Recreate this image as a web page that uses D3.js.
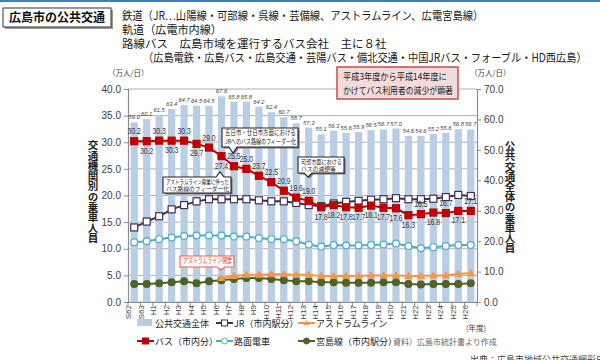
<!DOCTYPE html>
<html><head><meta charset="utf-8">
<script src="https://cdn.jsdelivr.net/npm/d3@7"></script>
<style>
body{margin:0;background:#fff;}
svg{display:block;font-family:"Noto Sans CJK JP","Noto Sans",sans-serif;}
</style></head><body>
<svg id="c" width="600" height="360"></svg>
<script>
// ---------- data ----------
const years = ["S62","S63","H1","H2","H3","H4","H5","H6","H7","H8","H9","H10","H11","H12","H13","H14","H15","H16","H17","H18","H19","H20","H21","H22","H23","H24","H25","H26"];
const total = [59.0,60.1,61.5,63.4,64.7,64.5,64.5,67.6,65.8,65.8,64.2,62.4,60.7,58.7,57.3,55.1,56.3,55.6,55.9,56.5,56.7,57.0,54.6,54.6,55.2,55.6,56.8,56.7];
const bus = [30.2,30.2,30.3,30.3,30.3,29.7,29.0,27.4,25.5,25.0,23.7,22.5,20.9,19.6,19.0,17.8,18.2,17.8,17.7,18.1,17.7,17.6,16.3,16.5,16.8,16.7,17.1,17.1];
const jr = [14.0,15.1,16.1,17.4,18.2,18.9,19.3,19.3,19.3,19.3,19.1,18.9,18.9,18.6,18.2,18.0,18.5,18.8,19.0,19.2,19.3,19.5,19.3,19.3,19.4,19.7,20.1,19.9];
const tram = [11.2,11.4,11.8,12.1,12.4,12.5,12.5,12.5,12.3,12.3,12.0,11.8,11.8,11.4,10.8,10.4,10.7,10.6,10.6,10.7,10.8,11.0,10.5,10.1,10.3,10.5,10.7,10.7];
const astram = [null,null,null,null,null,null,null,4.5,4.9,5.1,5.1,5.2,5.2,5.1,5.1,4.9,4.9,4.9,4.9,5.0,5.0,5.0,4.9,4.9,5.0,5.0,5.3,5.4];
const miyajima = [3.4,3.4,3.5,3.7,3.9,3.5,3.9,4.1,4.3,4.5,4.5,4.3,4.1,3.9,3.9,3.7,3.7,3.6,3.6,3.6,3.7,3.7,3.4,3.3,3.4,3.4,3.4,3.5];
const leftTicks = [0,5,10,15,20,25,30,35,40];
const rightTicks = [0,10,20,30,40,50,60,70];
// label placement for bus values (a = above, b = below)
const busLabelSide = ["a","b","a","b","a","b","a","b","a","a","a","a","a","a","a","b","b","b","b","b","b","b","b","a","b","a","b","a"];

// ---------- layout ----------
const L = 128, R = 477, T = 89, B = 302;
const svg = d3.select("#c");
const x = d3.scaleBand().domain(years).range([L, R]).paddingInner(0.42).paddingOuter(0.21);
const cx = i => x(years[i]) + x.bandwidth() / 2;
const yL = d3.scaleLinear().domain([0, 40]).range([B, T]);
const yR = d3.scaleLinear().domain([0, 70]).range([B, T]);

// text squeezed horizontally to a given width (keeps real bbox correct)
function fitText(parent, str, tx, ty, width, fs, attrs) {
  const t = parent.append("text").attr("font-size", fs).text(str);
  Object.entries(attrs || {}).forEach(([k, v]) => t.attr(k, v));
  const natural = t.node().getComputedTextLength();
  const sx = Math.min(1, width / natural);
  t.attr("transform", `translate(${tx},${ty}) scale(${sx},1)`);
  return t;
}

// top blue rule
svg.append("rect").attr("x", 0).attr("y", 0).attr("width", 600).attr("height", 2).attr("fill", "#3c7dc5");

// header box
svg.append("rect").attr("x", 5).attr("y", 10).attr("width", 108).attr("height", 19).attr("fill", "#9a9a9a");
svg.append("rect").attr("x", 3).attr("y", 8).attr("width", 108).attr("height", 19).attr("fill", "#fff").attr("stroke", "#333").attr("stroke-width", 1);
svg.append("text").attr("x", 57).attr("y", 22).attr("text-anchor", "middle").attr("font-weight", "bold")
  .attr("font-size", 12).attr("fill", "#111").text("広島市の公共交通");

const header = [
  {t: "鉄道（JR…山陽線・可部線・呉線・芸備線、アストラムライン、広電宮島線）", x: 122, y: 20, w: 362},
  {t: "軌道（広電市内線）", x: 122, y: 34, w: 100},
  {t: "路線バス　広島市域を運行するバス会社　主に８社", x: 122, y: 48, w: 268},
  {t: "（広島電鉄・広島バス・広島交通・芸陽バス・備北交通・中国JRバス・フォーブル・HD西広島）", x: 143, y: 62, w: 444}
];
header.forEach(h => fitText(svg, h.t, h.x, h.y, h.w, 11.5, {fill: "#1a1a1a"}));

// gridlines
svg.append("g").selectAll("line").data(leftTicks).join("line")
  .attr("x1", L).attr("x2", R).attr("y1", d => yL(d)).attr("y2", d => yL(d))
  .attr("stroke", "#a6a6a6").attr("stroke-width", 0.9);

// bars
svg.append("g").selectAll("rect").data(total).join("rect")
  .attr("x", (d, i) => x(years[i])).attr("width", x.bandwidth())
  .attr("y", d => yR(d)).attr("height", d => B - yR(d)).attr("fill", "#b9cde5");
svg.append("g").selectAll("text").data(total).join("text")
  .attr("x", (d, i) => cx(i)).attr("y", d => yR(d) - 3).attr("text-anchor", "middle")
  .attr("font-size", 5.8).attr("font-style", "italic").attr("fill", "#444")
  .attr("font-family", "Liberation Sans, sans-serif").text(d => d.toFixed(1));

// axes
const axL = svg.append("g").attr("transform", `translate(${L},0)`)
  .call(d3.axisLeft(yL).tickValues(leftTicks).tickFormat(d3.format(".1f")).tickSize(4).tickPadding(3));
const axR = svg.append("g").attr("transform", `translate(${R},0)`)
  .call(d3.axisRight(yR).tickValues(rightTicks).tickFormat(d3.format(".1f")).tickSize(4).tickPadding(3));
[axL, axR].forEach(a => {
  a.select(".domain").attr("stroke", "#8c8c8c").attr("stroke-width", 1.2);
  a.selectAll(".tick line").attr("stroke", "#8c8c8c");
  a.selectAll(".tick text").attr("font-size", 10).attr("fill", "#404040").attr("font-family", "Liberation Sans, sans-serif");
});

const axB = svg.append("g").attr("transform", `translate(0,${B})`)
  .call(d3.axisBottom(x).tickSize(0).tickPadding(3));
axB.select(".domain").attr("stroke", "#8c8c8c").attr("stroke-width", 1.2);
axB.selectAll(".tick text").attr("font-size", 8).attr("fill", "#404040")
  .attr("font-family", "Liberation Sans, sans-serif")
  .attr("transform", "rotate(-90)").attr("text-anchor", "end").attr("dx", "-3").attr("dy", "-0.35em").attr("x", 0).attr("y", 0);
// ticks between categories
svg.append("g").selectAll("line").data(d3.range(years.length + 1)).join("line")
  .attr("x1", i => L + i * x.step()).attr("x2", i => L + i * x.step())
  .attr("y1", B).attr("y2", B + 4).attr("stroke", "#8c8c8c");

// units & axis titles
svg.append("text").attr("x", 108).attr("y", 76).attr("font-size", 7.5).attr("fill", "#404040").text("（万人/日）");
svg.append("text").attr("x", 470).attr("y", 76).attr("font-size", 7.5).attr("fill", "#404040").text("（万人/日）");
svg.append("text").attr("x", 466).attr("y", 331).attr("font-size", 7.5).attr("fill", "#404040").text("(年度)");

function vtext(str, xx, y0, fs, ls) {
  svg.append("text").attr("x", xx).attr("y", y0)
    .style("writing-mode", "vertical-rl").style("text-orientation", "upright")
    .attr("font-size", fs).attr("font-weight", "bold").attr("fill", "#222")
    .style("letter-spacing", ls + "px").text(str);
}
vtext("交通機関別の乗車人員", 93, 140, 10.5, -0.2);
vtext("公共交通全体の乗車人員", 510, 141, 10.5, -0.3);

// lines
const line = d3.line().defined(d => d != null).x((d, i) => cx(i)).y(d => yL(d));
function series(data, color, marker, fill, sw) {
  const g = svg.append("g");
  g.append("path").datum(data).attr("d", line).attr("fill", "none").attr("stroke", color).attr("stroke-width", sw || 2);
  const pts = data.map((v, i) => ({v, i})).filter(p => p.v != null);
  if (marker === "square") {
    g.selectAll("rect").data(pts).join("rect").attr("x", p => cx(p.i) - 3.5).attr("y", p => yL(p.v) - 3.5)
      .attr("width", 7).attr("height", 7).attr("fill", fill).attr("stroke", color).attr("stroke-width", 1.2);
  } else if (marker === "circle") {
    g.selectAll("circle").data(pts).join("circle").attr("cx", p => cx(p.i)).attr("cy", p => yL(p.v))
      .attr("r", 3.4).attr("fill", fill).attr("stroke", color).attr("stroke-width", 1.2);
  } else if (marker === "triangle") {
    g.selectAll("path.m").data(pts).join("path").attr("class", "m")
      .attr("d", p => `M${cx(p.i)},${yL(p.v) - 3.5}L${cx(p.i) + 3.5},${yL(p.v) + 2.5}L${cx(p.i) - 3.5},${yL(p.v) + 2.5}Z`)
      .attr("fill", fill).attr("stroke", color);
  }
}
series(miyajima, "#4f6228", "circle", "#4f6228");
series(astram, "#f79646", "triangle", "#f79646");
series(tram, "#4bacc6", "circle", "#fff");
series(jr, "#403151", "square", "#fff");
series(bus, "#c00000", "square", "#c00000");

// bus value labels (narrow digits, like the original)
const busLab = svg.append("g");
bus.forEach((d, i) => {
  const t = busLab.append("text").attr("text-anchor", "middle").attr("font-size", 9.5).attr("fill", "#333")
    .attr("font-family", "Liberation Sans, sans-serif").text(d.toFixed(1));
  const ty = yL(d) + (busLabelSide[i] === "a" ? -7 : 12.5);
  t.attr("transform", `translate(${cx(i)},${ty}) scale(0.72,1)`);
});

// callouts
function callout(bx, by, w, h, lines, tipX, tipY, stroke, tcolor, fs, shadow) {
  let d;
  if (tipY > by + h) d = `M${bx},${by}H${bx + w}V${by + h}H${tipX + 4}L${tipX},${tipY}L${tipX - 4},${by + h}H${bx}Z`;
  else d = `M${bx},${by}H${tipX - 4}L${tipX},${tipY}L${tipX + 4},${by}H${bx + w}V${by + h}H${bx}Z`;
  if (shadow) svg.append("path").attr("d", d).attr("transform", "translate(1.5,1.5)").attr("fill", "#777");
  svg.append("path").attr("d", d).attr("fill", "#fff").attr("stroke", stroke).attr("stroke-width", 1.1);
  const gap = lines.length > 1 ? (h - 2) / lines.length : h;
  lines.forEach((t, k) => fitText(svg, t, bx + 3, by + fs + 0.8 + k * gap, w - 5, fs, {fill: tcolor}));
}
callout(222, 128, 76, 19, ["五日市・廿日市方面における", "JRへのバス路線のフィーダー化"], 233, 153, "#222", "#222", 6.3, true);
callout(163, 177, 68, 16, ["アストラムライン開業に伴った", "バス路線のフィーダー化"], 220, 172, "#222", "#222", 5.8, true);
callout(298, 157, 46, 16, ["可部方面における", "バスの減便等"], 308, 177, "#222", "#222", 5.8, true);
callout(180, 256, 54, 11, ["アストラムライン開業"], 221, 270, "#f2603d", "#e8412a", 6.6, false);

// red note box
svg.append("rect").attr("x", 337).attr("y", 67).attr("width", 121).attr("height", 32)
  .attr("fill", "#f2dcdb").attr("stroke", "#c0504d").attr("stroke-width", 1.5);
fitText(svg, "平成3年度から平成14年度に", 343, 80, 104, 9.5, {fill: "#222"});
fitText(svg, "かけてバス利用者の減少が顕著", 343, 94, 110, 9.5, {fill: "#222"});

// legend
const leg = [
  {t: "公共交通全体", type: "bar", x: 137, y: 323},
  {t: "JR（市内駅分）", type: "square", c: "#403151", f: "#fff", x: 216, y: 323},
  {t: "アストラムライン", type: "triangle", c: "#f79646", f: "#f79646", x: 298, y: 323},
  {t: "バス（市内分）", type: "square", c: "#c00000", f: "#c00000", x: 137, y: 341},
  {t: "路面電車", type: "circle", c: "#4bacc6", f: "#fff", x: 216, y: 341},
  {t: "宮島線（市内駅分）", type: "circle", c: "#4f6228", f: "#4f6228", x: 298, y: 341}
];
leg.forEach(l => {
  const g = svg.append("g");
  if (l.type === "bar") {
    g.append("rect").attr("x", l.x).attr("y", l.y - 4).attr("width", 15).attr("height", 7).attr("fill", "#b9cde5");
  } else {
    g.append("line").attr("x1", l.x).attr("x2", l.x + 17).attr("y1", l.y).attr("y2", l.y).attr("stroke", l.c).attr("stroke-width", 2);
    const mx = l.x + 8.5;
    if (l.type === "square") g.append("rect").attr("x", mx - 3).attr("y", l.y - 3).attr("width", 6).attr("height", 6).attr("fill", l.f).attr("stroke", l.c);
    if (l.type === "circle") g.append("circle").attr("cx", mx).attr("cy", l.y).attr("r", 3).attr("fill", l.f).attr("stroke", l.c);
    if (l.type === "triangle") g.append("path").attr("d", `M${mx},${l.y - 3}L${mx + 3},${l.y + 2}L${mx - 3},${l.y + 2}Z`).attr("fill", l.f);
  }
  g.append("text").attr("x", l.x + 18).attr("y", l.y + 3.5).attr("font-size", 9).attr("fill", "#222").text(l.t);
});
svg.append("text").attr("x", 393).attr("y", 344.5).attr("font-size", 8).attr("fill", "#666").text("資料）広島市統計書より作成");
svg.append("text").attr("x", 470).attr("y", 363).attr("font-size", 9).attr("fill", "#444").text("出典：広島市地域公共交通網形成計画");
</script>
</body></html>
